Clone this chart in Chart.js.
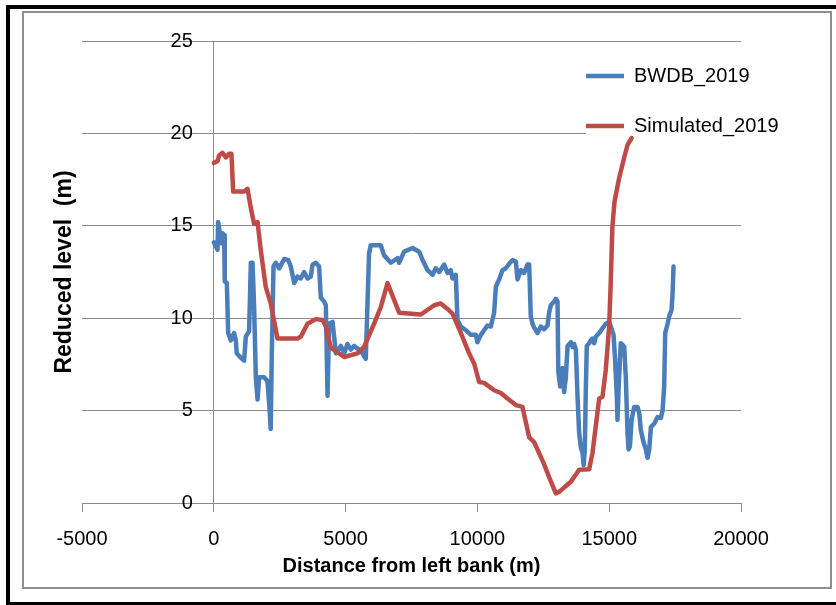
<!DOCTYPE html>
<html><head><meta charset="utf-8">
<script src="https://cdn.jsdelivr.net/npm/chart.js@4.4.1/dist/chart.umd.min.js"></script>
<style>
html,body{margin:0;padding:0;background:#fff;}
#wrap{position:relative;width:836px;height:605px;overflow:hidden;background:#fff;}
canvas{position:absolute;left:0;top:0;}
.f{position:absolute;pointer-events:none;box-sizing:border-box;}
</style></head><body>
<div id="wrap">
<canvas id="c" width="836" height="605"></canvas>
<div class="f" style="left:22px;top:11px;width:810px;height:578px;border:2px solid #8e8e8e;"></div>
<div class="f" style="left:6px;top:5px;width:830px;height:4px;background:#000"></div>
<div class="f" style="left:6px;top:5px;width:4px;height:600px;background:#000"></div>
<div class="f" style="left:6px;top:602px;width:830px;height:3px;background:#000"></div>
</div>
<script>
const seriesNames = ['BWDB_2019', 'Simulated_2019'];
const xTitle = 'Distance from left bank (m)';
const yTitle = 'Reduced level  (m)';
const xTicks = [-5000, 0, 5000, 10000, 15000, 20000];
const yTicks = [0, 5, 10, 15, 20, 25];

const bwdbX = [0,75,140,165,230,265,330,390,415,495,545,645,770,835,870,1000,1150,1215,1340,1405,1470,1530,1595,1660,1720,1910,2035,2100,2160,2200,2265,2350,2480,2670,2820,2920,3050,3175,3300,3425,3555,3680,3745,3870,3995,4060,4185,4250,4315,4375,4505,4565,4630,4820,4945,5070,5200,5320,5510,5640,5765,5890,5955,6335,6460,6715,6970,7030,7220,7540,7790,7920,8110,8300,8420,8550,8740,8865,8990,9055,9180,9245,9370,9560,9750,9940,10000,10130,10255,10380,10510,10635,10700,10825,10950,11080,11205,11330,11460,11520,11650,11775,11900,11965,12025,12090,12150,12280,12405,12530,12660,12720,12785,12910,12975,13040,13070,13140,13230,13290,13355,13420,13545,13610,13670,13735,13800,13860,13925,13990,14030,14075,14115,14150,14240,14300,14365,14430,14490,14620,14745,14870,15000,15060,15165,15225,15290,15315,15355,15405,15440,15570,15630,15695,15735,15785,15850,15950,16075,16140,16200,16300,16390,16455,16520,16580,16710,16835,16960,17025,17085,17125,17215,17275,17365,17405,17440];
const bwdbY = [14.1,13.9,13.7,15.2,14.6,14.05,14.6,14.5,12.0,11.9,9.2,8.8,9.2,8.8,8.1,7.9,7.7,9.0,9.3,13.0,13.0,10.6,6.8,5.6,6.8,6.8,6.6,5.4,4.0,8.1,12.8,13.0,12.7,13.2,13.15,12.8,11.9,12.25,12.15,12.5,12.15,12.25,12.9,13.0,12.8,11.1,10.9,10.7,5.8,9.7,9.8,9.0,8.1,8.5,8.1,8.6,8.3,8.5,8.3,8.1,7.8,13.5,13.95,13.95,13.4,13.0,13.25,13.0,13.6,13.8,13.6,13.15,12.6,12.35,12.7,12.5,12.9,12.45,12.6,12.15,12.35,9.9,9.55,9.35,9.1,9.1,8.7,9.1,9.35,9.6,9.55,10.3,11.7,12.1,12.6,12.7,12.95,13.15,13.05,12.1,12.6,12.45,12.9,12.9,10.1,9.7,9.5,9.2,9.55,9.4,9.6,10.3,10.7,10.9,11.05,10.9,7.1,6.3,7.3,6.0,6.8,8.5,8.7,8.45,8.6,8.3,5.7,3.8,3.0,2.7,2.05,2.9,6.3,8.5,8.65,8.8,8.9,8.65,9.0,9.2,9.45,9.7,9.8,9.55,9.1,7.7,5.75,4.5,6.1,7.7,8.65,8.45,6.8,3.8,2.9,3.05,4.5,5.2,5.2,4.85,3.95,3.3,2.9,2.45,2.9,4.1,4.3,4.65,4.6,5.0,6.3,9.2,9.7,10.1,10.45,11.35,12.8];

const simX = [0,140,200,330,455,580,670,735,1150,1280,1400,1530,1660,1780,1970,2160,2415,3175,3300,3555,3870,4125,4250,4440,4945,5450,5700,6080,6335,6590,7030,7855,8360,8610,8865,9055,9370,9685,9875,10065,10255,10635,10890,11140,11460,11710,11965,12150,12530,12720,12975,13100,13545,13860,14240,14365,14620,14745,14870,15000,15060,15120,15200,15380,15570,15700,15850];
const simY = [18.4,18.5,18.8,18.95,18.7,18.9,18.9,16.85,16.85,17.0,16.0,15.1,15.2,13.7,11.7,10.8,8.9,8.9,9.0,9.7,9.95,9.9,9.55,8.4,7.9,8.1,8.45,9.7,10.6,11.9,10.3,10.2,10.7,10.8,10.5,10.25,9.2,8.1,7.55,6.55,6.5,6.1,5.95,5.65,5.3,5.2,3.55,3.3,2.1,1.4,0.52,0.6,1.15,1.8,1.82,2.7,5.65,5.75,7.2,9.6,12.0,14.9,16.3,17.6,18.7,19.4,19.75];

const FONT = '"Liberation Sans", Arial, sans-serif';
const GRID = '#8a8a8a';
const Y_LABEL_GAP = 21;

const legendPlace = {
  id: 'legendPlace',
  afterLayout(chart) {
    const lg = chart.legend;
    if (!lg) return;
    const w = lg.width, h = lg.height;
    lg.left = 556; lg.top = 36; lg.right = lg.left + w; lg.bottom = lg.top + h;
    if (!lg._wrapped) {
      const orig = lg.draw;
      lg.draw = function (area) {
        const ctx = chart.ctx;
        ctx.save();
        ctx.fillStyle = '#ffffff';
        ctx.fillRect(586, 54, 205, 84);
        ctx.restore();
        orig.call(this, area);
      };
      lg._wrapped = true;
    }
  },
  beforeDraw(chart) {
    const s = chart.scales.y;
    const items = s.getLabelItems(chart.chartArea);
    items.forEach(it => {
      if (!it._shifted) { it.options.translation[0] -= Y_LABEL_GAP; it._shifted = true; }
    });
  }
};

new Chart(document.getElementById('c'), {
  type: 'line',
  data: {
    datasets: [
      { label: seriesNames[0], data: bwdbX.map((x, i) => ({ x: x, y: bwdbY[i] })),
        borderColor: '#4a7ebb', backgroundColor: '#4a7ebb', borderWidth: 4.5,
        pointRadius: 0, tension: 0, fill: false, order: 1,
        borderJoinStyle: 'round', borderCapStyle: 'round' },
      { label: seriesNames[1], data: simX.map((x, i) => ({ x: x, y: simY[i] })),
        borderColor: '#be4b48', backgroundColor: '#be4b48', borderWidth: 4.5,
        pointRadius: 0, tension: 0, fill: false, order: 0,
        borderJoinStyle: 'round', borderCapStyle: 'round' }
    ]
  },
  options: {
    responsive: false,
    devicePixelRatio: 1,
    animation: false,
    events: [],
    layout: { padding: { left: 41, right: 95, top: 41, bottom: 27 } },
    plugins: {
      tooltip: { enabled: false },
      legend: {
        display: true,
        position: 'chartArea',
        align: 'start',
        labels: {
          sort: (a, b) => a.datasetIndex - b.datasetIndex,
          usePointStyle: true, pointStyle: 'line', pointStyleWidth: 38,
          boxHeight: 20, padding: 30, color: '#000',
          font: { family: FONT, size: 20 }
        }
      }
    },
    scales: {
      x: {
        type: 'linear', position: 'bottom', min: -5000, max: 20000,
        afterBuildTicks: s => { s.ticks = xTicks.map(v => ({ value: v })); },
        afterFit: s => { s.height = 75; },
        grid: { drawOnChartArea: false, drawTicks: true, tickLength: 9, color: GRID, lineWidth: 1 },
        border: { display: true, color: GRID, width: 1 },
        ticks: { color: '#000', padding: 17, maxRotation: 0, autoSkip: false,
                 font: { family: FONT, size: 20, lineHeight: 1 },
                 callback: v => String(v) },
        title: { display: true, text: xTitle, color: '#000', padding: { top: 0, bottom: 0 },
                 font: { family: FONT, size: 20, weight: 'bold', lineHeight: 1.2 } }
      },
      y: {
        type: 'linear', position: { x: 0 }, min: 0, max: 25,
        afterBuildTicks: s => { s.ticks = yTicks.map(v => ({ value: v })); },
        grid: { drawTicks: false, color: GRID, lineWidth: 1, z: -1 },
        border: { display: true, color: GRID, width: 1 },
        ticks: { color: '#000', padding: 0, font: { family: FONT, size: 20 },
                 callback: v => String(v) }
      },
      yTitle: {
        type: 'linear', position: 'left', axis: 'y', display: true,
        afterFit: s => { s.width = 41; },
        grid: { display: false, drawTicks: false },
        border: { display: false },
        ticks: { display: false },
        title: { display: true, text: yTitle, color: '#000', padding: { top: 10, bottom: 0 },
                 font: { family: FONT, size: 23, weight: 'bold', lineHeight: 1.2 } }
      }
    }
  },
  plugins: [legendPlace]
});
</script>
</body></html>
